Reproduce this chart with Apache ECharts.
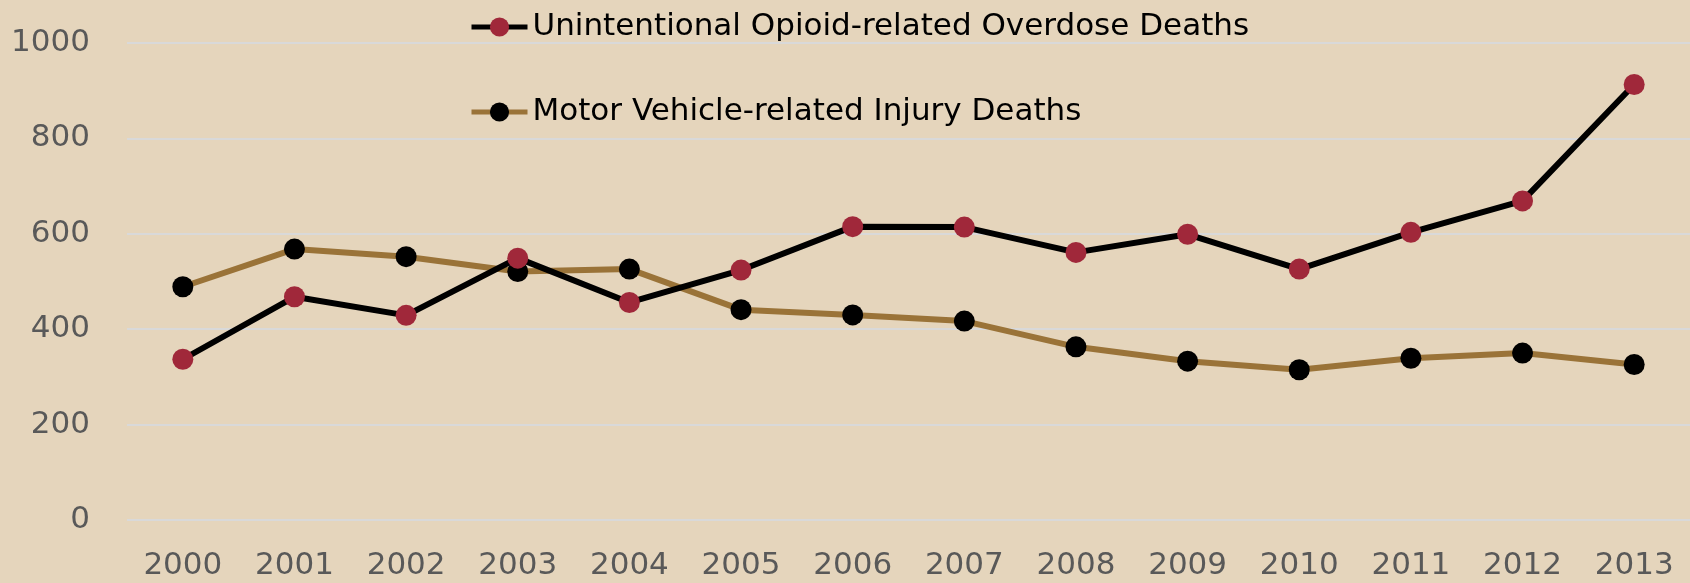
<!DOCTYPE html>
<html>
<head>
<meta charset="utf-8">
<style>
  html, body { margin: 0; padding: 0; background: #e5d5bc; }
  #chart { width: 1690px; height: 583px; }
</style>
<script src="https://cdn.jsdelivr.net/npm/echarts@6/dist/echarts.min.js"></script>
</head>
<body>
<div id="chart"></div>
<script>
const years = ['2000', '2001', '2002', '2003', '2004', '2005', '2006', '2007', '2008', '2009', '2010', '2011', '2012', '2013'];
const opioidDeaths = [337, 468, 429, 549, 456, 524, 615, 614, 561, 599, 526, 603, 669, 913];
const motorVehicleDeaths = [489, 568, 552, 521, 526, 441, 430, 417, 363, 333, 315, 339, 350, 326];

const chart = echarts.init(document.getElementById('chart'));

const option = {
  backgroundColor: '#e5d5bc',
  animation: false,
  textStyle: {
    fontFamily: 'DejaVu Sans'
  },
  legend: {
    orient: 'vertical',
    left: 464,
    top: 5,
    itemWidth: 56,
    itemHeight: 24,
    itemGap: 51,
    lineStyle: { width: 5 },
    textStyle: {
      fontSize: 31,
      lineHeight: 34,
      color: '#000'
    },
    data: ['Unintentional Opioid-related Overdose Deaths', 'Motor Vehicle-related Injury Deaths']
  },
  grid: {
    left: 127,
    right: 0,
    top: 43,
    bottom: 63
  },
  xAxis: {
    type: 'category',
    data: years,
    axisLine: { show: false },
    axisTick: { show: false },
    axisLabel: {
      fontSize: 31,
      color: '#595959',
      margin: 30
    }
  },
  yAxis: {
    type: 'value',
    min: 0,
    max: 1000,
    interval: 200,
    axisLine: { show: false },
    axisTick: { show: false },
    axisLabel: {
      fontSize: 31,
      color: '#595959',
      margin: 37,
      formatter: function (v) { return String(v); }
    },
    splitLine: {
      lineStyle: { color: '#d9d9d9', width: 2 }
    }
  },
  series: [
    {
      name: 'Motor Vehicle-related Injury Deaths',
      type: 'line',
      data: motorVehicleDeaths,
      symbol: 'circle',
      symbolSize: 21,
      lineStyle: { color: '#9a7338', width: 6 },
      itemStyle: { color: '#000' },
      z: 2
    },
    {
      name: 'Unintentional Opioid-related Overdose Deaths',
      type: 'line',
      data: opioidDeaths,
      symbol: 'circle',
      symbolSize: 21,
      lineStyle: { color: '#000', width: 6 },
      itemStyle: { color: '#a0283a' },
      z: 3
    }
  ]
};

chart.setOption(option);
</script>
</body>
</html>
